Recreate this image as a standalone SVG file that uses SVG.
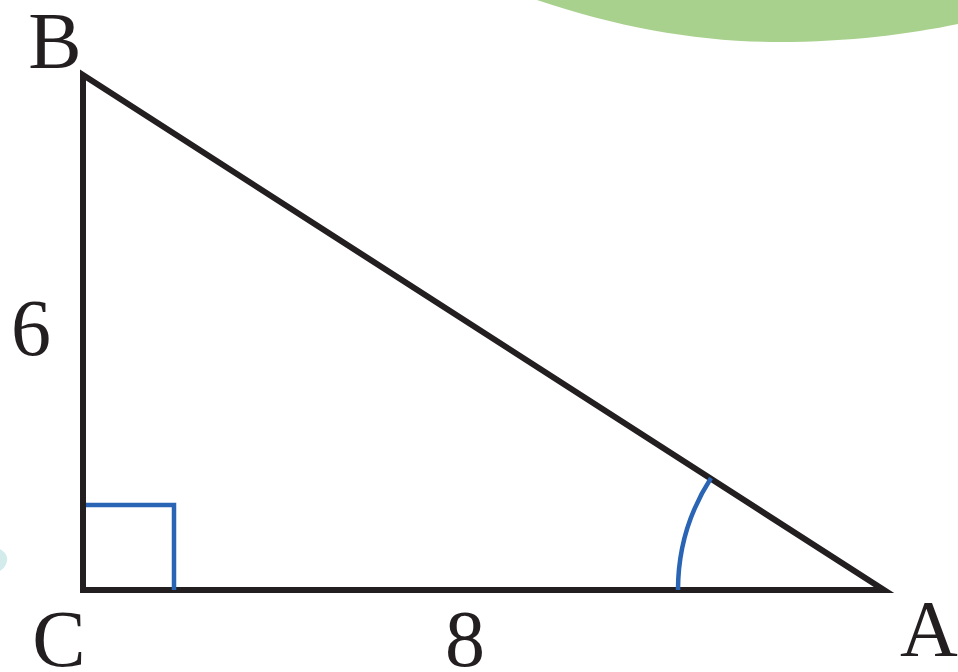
<svg xmlns="http://www.w3.org/2000/svg" width="958" height="672" viewBox="0 0 958 672">
<style>
.lbl{font-family:"Liberation Serif","DejaVu Serif",serif;font-size:80px;fill:#231f20;text-anchor:middle}
.edge{fill:none;stroke:#231f20;stroke-width:6;stroke-linejoin:miter;stroke-miterlimit:20}
.mark{fill:none;stroke:#2a64b4;stroke-width:4.5}
</style>
<rect width="958" height="672" fill="#ffffff"/>
<path d="M537,0 C620,28 700,42 778,42 C850,42 910,34 958,24 L958,0 Z" fill="#a9d18e"/>
<path d="M0,549 C5,552 8,556 7,561 C6,566 3,569 0,571 Z" fill="#d4ebec"/>
<g id="connectors">
<path class="edge" d="M83,75 L83,590 L884,590 Z"/>
</g>
<g id="right-angle"><path class="mark" d="M86,505 L174,505 L174,590"/></g>
<g id="angle-A"><path class="mark" d="M678,590 A207,207 0 0 1 711,478"/></g>
<g id="node-B"><text class="lbl" x="55" y="68">B</text></g>
<g id="node-C"><text class="lbl" x="59" y="666">C</text></g>
<g id="node-A"><text class="lbl" x="929" y="656">A</text></g>
<g id="label-6"><text class="lbl" x="31" y="355">6</text></g>
<g id="label-8"><text class="lbl" x="465" y="666">8</text></g>
</svg>
